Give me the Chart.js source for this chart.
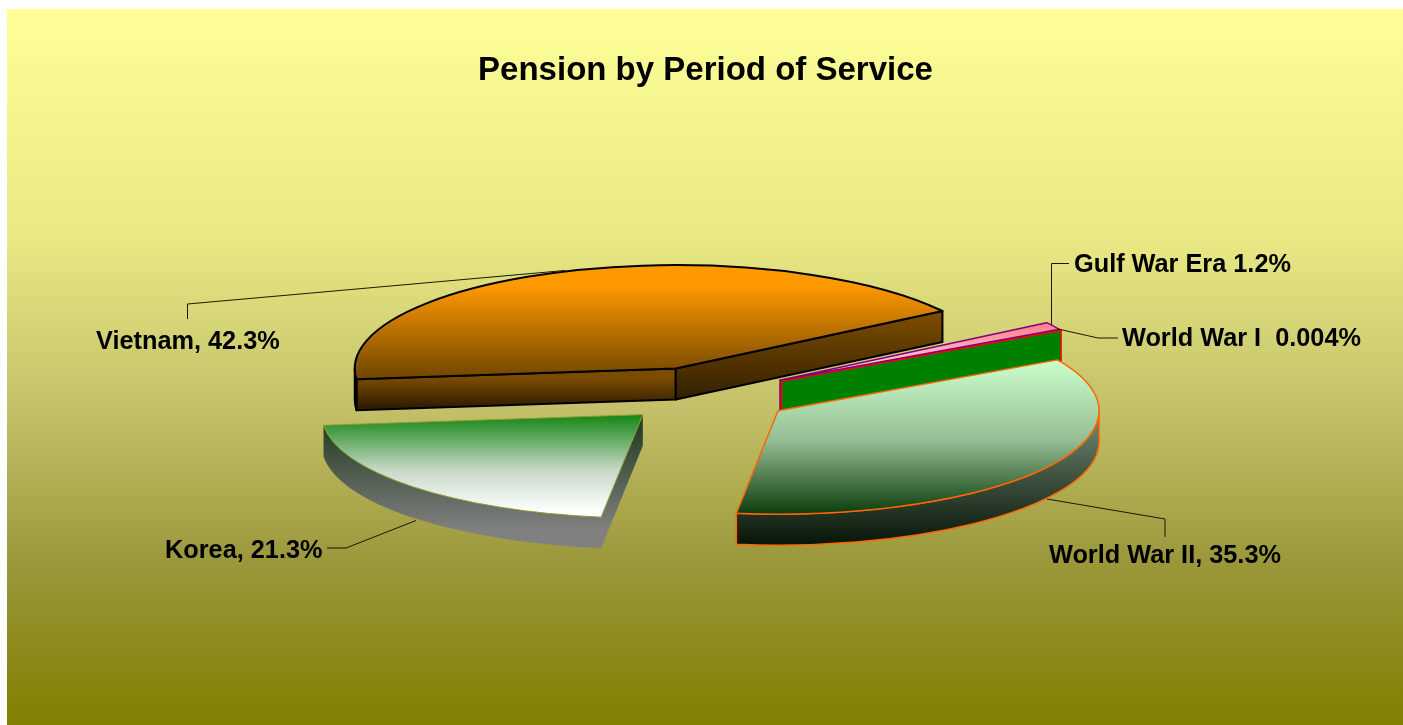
<!DOCTYPE html>
<html>
<head>
<meta charset="utf-8">
<script src="https://cdn.jsdelivr.net/npm/chart.js@4"></script>
<style>html,body{margin:0;padding:0;background:#fff}canvas{display:block}</style>
</head>
<body>
<div style="width:1403px;height:725px"><canvas id="c" width="1403" height="725"></canvas></div>
<script>
const titleText = 'Pension by Period of Service';
const categories = ['World War I', 'World War II', 'Korea', 'Vietnam', 'Gulf War Era'];
const shares = [0.004, 35.3, 21.3, 42.3, 1.2];
const sliceLabels = ['World War I  0.004%', 'World War II, 35.3%', 'Korea, 21.3%', 'Vietnam, 42.3%', 'Gulf War Era 1.2%'];

// view of the tilted pie
const SCREEN_CY = 395, RADIUS = 321, SQUASH = 0.322, DEPTH = 31, EXPLODE = 87.5, ROTATION = 60.5;

const faceStops = [
  [[330, '#ff0000'], [380, '#ff0000']],
  [[360, '#ccffcc'], [440, '#96be96'], [514, '#0c3c0c']],
  [[416, '#178817'], [470, '#c8d8c8'], [512, '#ffffff']],
  [[285, '#ff9900'], [380, '#6e4500']],
  [[325, '#ff8090'], [380, '#ffe8e8']]
];
const wallStops = [
  [[330, '#008000'], [410, '#008000']],
  [[420, '#6e8570'], [545, '#071507']],
  [[430, '#284028'], [530, '#808080']],
  [[378, '#7a4c00'], [410, '#2a1800']],
  [[330, '#008000'], [410, '#008000']]
];
const endWallStops = [
  [[330, '#008000'], [410, '#008000']],
  [[420, '#6e8570'], [545, '#071507']],
  [[430, '#284028'], [530, '#808080']],
  [[310, '#7e4e00'], [410, '#2a1a00']],
  [[330, '#008000'], [410, '#008000']]
];
const edgeColors = ['#ff0000', '#ff6600', '#8f9a30', '#000000', '#800080'];
const edgeWidths = [1.5, 1.5, 1, 2, 1.5];
const labelSpots = [[1122, 346], [1049, 563], [165, 558], [96, 349], [1074, 272]];
const leaders = [
  [[1058, 329], [1098, 338], [1118, 338]],
  [[1047, 499], [1165, 519], [1165, 537]],
  [[416, 520.5], [346, 548], [327, 548]],
  [[565, 270.5], [187.5, 304], [187.5, 319]],
  [[1051.5, 325], [1051.5, 263.5], [1069, 263.5]]
];
const backgroundStops = [[0, '#ffff99'], [0.33, '#e7e783'], [0.56, '#c3c069'], [0.77, '#9b983c'], [1, '#808000']];

function vGrad(ctx, stops, toY) {
  const first = stops[0][0], last = stops[stops.length - 1][0];
  const g = ctx.createLinearGradient(0, toY(first), 0, toY(last));
  stops.forEach(s => g.addColorStop((s[0] - first) / (last - first), s[1]));
  return g;
}
const centerOf = chart => (chart.chartArea.top + chart.chartArea.bottom) / 2;
const TAU = Math.PI * 2;

// mid angle of a slice, the same one the library derives from the data
function sliceMid(i) {
  const total = shares.reduce((a, b) => a + b, 0);
  const before = shares.slice(0, i).reduce((a, b) => a + b, 0);
  return (ROTATION - 90) * Math.PI / 180 + (before + shares[i] / 2) / total * TAU;
}

function geom(arc) {
  const mid = (arc.startAngle + arc.endAngle) / 2;
  return {
    cx: arc.x + Math.cos(mid) * EXPLODE,
    cy: SCREEN_CY + SQUASH * Math.sin(mid) * EXPLODE,
    rx: arc.outerRadius, ry: arc.outerRadius * SQUASH, a0: arc.startAngle, a1: arc.endAngle
  };
}
function rim(g, a) { return [g.cx + g.rx * Math.cos(a), g.cy + g.ry * Math.sin(a)]; }

function frontSpans(a0, a1) {
  const out = [];
  for (let k = -1; k <= 1; k++) {
    const s = Math.max(a0, k * TAU), e = Math.min(a1, k * TAU + Math.PI);
    if (e > s) out.push([s, e]);
  }
  return out;
}

const pie3d = {
  id: 'pie3d',
  beforeDraw(chart) {
    const { ctx } = chart;
    const g = ctx.createLinearGradient(0, 9, 0, 725);
    backgroundStops.forEach(s => g.addColorStop(s[0], s[1]));
    ctx.save();
    ctx.fillStyle = '#ffffff';
    ctx.fillRect(0, 0, 1403, 725);
    ctx.fillStyle = g;
    ctx.fillRect(7, 9, 1396, 716);
    ctx.restore();
  },
  beforeDatasetsDraw(chart) {
    const { ctx } = chart, arcs = chart.getDatasetMeta(0).data;
    // pull each slice out along its own mid angle while the library draws it
    arcs.forEach(arc => {
      if (arc.$exploded) return;
      arc.$exploded = true;
      const baseDraw = arc.draw;
      arc.draw = function (c) {
        const mid = (this.startAngle + this.endAngle) / 2;
        c.save();
        c.translate(Math.cos(mid) * EXPLODE, Math.sin(mid) * EXPLODE);
        baseDraw.call(this, c);
        c.restore();
      };
    });
    ctx.save();
    ctx.lineJoin = 'round';
    for (let i = arcs.length - 1; i >= 0; i--) {
      const g = geom(arcs[i]);
      const paint = (stops, path) => {
        ctx.beginPath(); path(); ctx.closePath();
        ctx.fillStyle = vGrad(ctx, stops, y => y); ctx.fill();
        ctx.strokeStyle = i === 2 ? 'rgba(0,0,0,0)' : edgeColors[i];
        ctx.lineWidth = edgeWidths[i]; ctx.stroke();
      };
      const radial = (a, stops) => paint(stops, () => {
        const p = rim(g, a);
        ctx.moveTo(g.cx, g.cy); ctx.lineTo(p[0], p[1]);
        ctx.lineTo(p[0], p[1] + DEPTH); ctx.lineTo(g.cx, g.cy + DEPTH);
      });
      if (Math.sin(g.a0 - Math.PI / 2) > 0) radial(g.a0, wallStops[i]);
      if (Math.sin(g.a1 + Math.PI / 2) > 0) radial(g.a1, endWallStops[i]);
      frontSpans(g.a0, g.a1).forEach(sp => paint(wallStops[i], () => {
        ctx.ellipse(g.cx, g.cy, g.rx, g.ry, 0, sp[0], sp[1]);
        ctx.ellipse(g.cx, g.cy + DEPTH, g.rx, g.ry, 0, sp[1], sp[0], true);
      }));
    }
    ctx.restore();
    // squash the round pie for the datasets pass
    const cy = centerOf(chart);
    ctx.save();
    ctx.translate(0, SCREEN_CY);
    ctx.scale(1, SQUASH);
    ctx.translate(0, -cy);
  },
  afterDatasetsDraw(chart) {
    const { ctx } = chart, arcs = chart.getDatasetMeta(0).data;
    ctx.restore();
    ctx.save();
    ctx.lineJoin = 'round';
    arcs.forEach((arc, i) => {
      const g = geom(arc);
      ctx.beginPath();
      ctx.moveTo(g.cx, g.cy);
      ctx.ellipse(g.cx, g.cy, g.rx, g.ry, 0, g.a0, g.a1);
      ctx.closePath();
      ctx.strokeStyle = edgeColors[i];
      ctx.lineWidth = edgeWidths[i];
      ctx.stroke();
    });
    // leader lines and slice labels
    ctx.strokeStyle = '#1a1a00';
    ctx.lineWidth = 1;
    leaders.forEach(l => {
      ctx.beginPath();
      l.forEach((p, k) => k ? ctx.lineTo(p[0], p[1]) : ctx.moveTo(p[0], p[1]));
      ctx.stroke();
    });
    ctx.fillStyle = '#000000';
    ctx.font = 'bold 25.3px "Liberation Sans"';
    ctx.textAlign = 'left';
    ctx.textBaseline = 'alphabetic';
    sliceLabels.forEach((t, i) => ctx.fillText(t, labelSpots[i][0], labelSpots[i][1]));
    ctx.restore();
  }
};

new Chart(document.getElementById('c'), {
  type: 'pie',
  plugins: [pie3d],
  data: {
    labels: categories,
    datasets: [{
      data: shares,
      clip: false,
      borderWidth: 0,
      backgroundColor: c => {
        const chart = c.chart;
        if (!chart.chartArea) return '#888';
        const cy = centerOf(chart);
        // each slice is filled inside its own pulled-out frame
        const shift = Math.sin(sliceMid(c.dataIndex)) * EXPLODE;
        return vGrad(chart.ctx, faceStops[c.dataIndex], y => cy + (y - SCREEN_CY) / SQUASH - shift);
      }
    }]
  },
  options: {
    responsive: false,
    animation: false,
    events: [],
    rotation: ROTATION,
    radius: RADIUS,
    layout: { padding: { left: 8 } },
    plugins: {
      legend: { display: false },
      tooltip: { enabled: false },
      title: {
        display: true,
        text: titleText,
        color: '#000000',
        font: { family: '"Liberation Sans"', size: 33, weight: 'bold', lineHeight: 1.2 },
        padding: { top: 51, bottom: 0 }
      }
    }
  }
});
</script>
</body>
</html>
